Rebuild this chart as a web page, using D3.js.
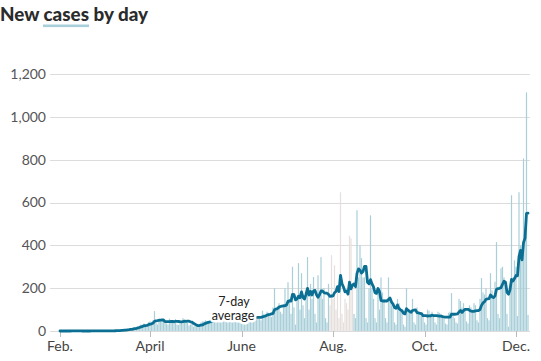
<!DOCTYPE html>
<html><head><meta charset="utf-8">
<script src="https://cdn.jsdelivr.net/npm/d3@7"></script>
<style>
html,body{margin:0;padding:0;background:#fff;}
svg{display:block;font-family:Lato,"Noto Sans",sans-serif;}
</style></head>
<body><svg id="c" width="541" height="361"></svg>
<script>
// Daily new cases, one array per month (2020)
const feb = [0,0,0,0,0,0,0,0,1,0,0,0,0,0,0,0,0,0,0,0,0,1,0,0,0,0,0,1,0];
const mar = [0,0,1,0,1,2,1,0,3,2,4,3,5,4,7,6,9,8,12,10,15,18,14,22,25,30,28,35,24,20,42];
const apr = [45,40,50,93,38,30,55,48,45,52,40,35,30,58,50,48,42,55,30,28,50,45,60,52,48,40,25,30,35,20];
const may = [25,18,22,30,40,45,45,50,40,35,42,60,55,50,62,55,40,45,70,58,55,60,48,42,70,65,52,60,58,50,45];
const jun = [75,70,62,65,72,55,48,80,68,60,62,70,58,50,95,80,75,90,85,70,65,110,200,95,110,130,90,80,120,200];
const jul = [120,228,150,80,300,110,30,150,317,100,270,120,60,180,345,100,220,150,252,80,40,260,180,345,150,200,60,40,220,120,354];
const aug = [150,307,100,200,60,648,80,40,150,130,100,445,433,200,80,60,564,250,400,340,250,250,60,40,200,540,200,150,60,40,200];
const sep = [100,250,180,150,60,40,250,150,120,110,40,30,150,130,110,90,30,20,200,100,90,80,150,40,30,110,90,80,70,80];
const oct = [40,30,100,95,80,90,70,40,30,90,85,80,75,60,35,30,85,90,177,70,60,40,35,150,140,110,130,100,45,35,120];
const nov = [110,100,130,120,50,40,150,247,180,170,200,60,50,270,190,150,230,415,80,60,293,300,250,200,80,20,200,634,250,330];
const dec = [300,70,648,400,330,806,480,1114,75];
// Days with incomplete reporting (shown in grey)
const greyRange = ["2020-07-30", "2020-08-14"];
const yTicks = [0,200,400,600,800,1000,1200];
const xTickDates = ["2020-02-01","2020-04-01","2020-06-01","2020-08-01","2020-10-01","2020-12-01"];
const xTickLabels = ["Feb.","April","June","Aug.","Oct.","Dec."];

const daily = [].concat(feb,mar,apr,may,jun,jul,aug,sep,oct,nov,dec);
const parse = d3.utcParse("%Y-%m-%d");
const start = parse("2020-02-01");
const data = daily.map((v,i)=>({date: d3.utcDay.offset(start,i), v}));
data.forEach((d,i)=>{
  const w = data.slice(Math.max(0,i-6), i+1);
  d.avg = d3.mean(w, e=>e.v);
});
const g0 = parse(greyRange[0]), g1 = parse(greyRange[1]);

const svg = d3.select("#c");
const x = d3.scaleUtc().domain([start, d3.utcDay.offset(start, daily.length-1)]).range([60, 528]);
const y = d3.scaleLinear().domain([0,1200]).range([331, 74]);

// title
svg.append("text").attr("x",0).attr("y",21)
  .attr("font-size",19.5).attr("font-weight",900).attr("fill","#2b2b2b")
  .attr("textLength",148).attr("lengthAdjust","spacingAndGlyphs")
  .text("New cases by day");
svg.append("rect").attr("x",43).attr("y",24.5).attr("width",46).attr("height",2.6).attr("fill","#a9d0da");

// gridlines
svg.append("g").selectAll("line").data(yTicks).join("line")
  .attr("x1",50).attr("x2",530).attr("y1",d=>Math.round(y(d))+0.5).attr("y2",d=>Math.round(y(d))+0.5)
  .attr("stroke","#dcdcdc").attr("stroke-width",1);
svg.append("g").selectAll("text").data(yTicks).join("text")
  .attr("x",46).attr("y",d=>y(d)).attr("dy","0.35em").attr("text-anchor","end")
  .attr("font-size",14).attr("fill","#555").text(d3.format(","));

// bars
svg.append("g").selectAll("rect").data(data.filter(d=>d.v>0)).join("rect")
  .attr("x",d=>x(d.date)-0.6).attr("width",1.2)
  .attr("y",d=>y(d.v)).attr("height",d=>y(0)-y(d.v))
  .attr("fill",d=> (d.date>=g0 && d.date<=g1) ? "#e7dfdd" : "#aacfd9");

// x ticks
const xt = xTickDates.map(parse);
svg.append("g").selectAll("line").data(xt).join("line")
  .attr("x1",d=>Math.round(x(d))+0.5).attr("x2",d=>Math.round(x(d))+0.5)
  .attr("y1",331).attr("y2",337).attr("stroke","#bbb");
svg.append("g").selectAll("text").data(xt).join("text")
  .attr("x",d=>x(d)).attr("y",351).attr("text-anchor","middle")
  .attr("font-size",14).attr("fill","#444").text((d,i)=>xTickLabels[i]);

// 7-day average line
const line = d3.line().x(d=>x(d.date)).y(d=>y(d.avg));
svg.append("path").datum(data).attr("d",line)
  .attr("fill","none").attr("stroke","#0b6f94").attr("stroke-width",2.8)
  .attr("stroke-linejoin","round").attr("stroke-linecap","round");

// label
const lab = svg.append("text").attr("text-anchor","middle").attr("font-size",12.5).attr("fill","#222")
  .attr("stroke","#fff").attr("stroke-width",5).attr("paint-order","stroke").attr("stroke-linejoin","round");
lab.append("tspan").attr("x",234).attr("y",306).text("7-day");
lab.append("tspan").attr("x",233).attr("y",320).text("average");
</script></body></html>
